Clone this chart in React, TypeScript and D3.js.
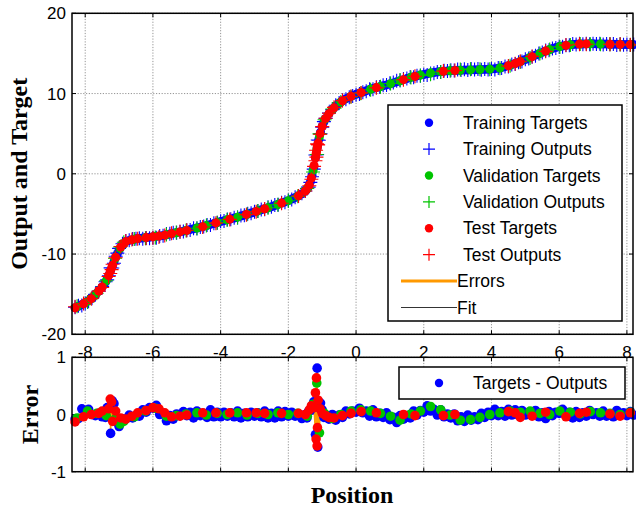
import React from "react";
import * as d3 from "d3";

// Each sample: [position, target, target - output]
const trainingSamples: [number, number, number][] = [
  [-8.3, -16.7, -0.08], [-8.2, -16.5, -0.07], [-8.1, -16.3, 0.1], [-8.0, -16.1, 0.07],
  [-7.9, -15.8, 0.09], [-7.8, -15.5, 0.0], [-7.7, -15.05, -0.02], [-7.6, -14.6, 0.02],
  [-7.5, -14.1, -0.04], [-7.4, -13.5, -0.05], [-7.35, -13.1, 0.12], [-7.3, -12.6, 0.11],
  [-7.25, -12.05, -0.33], [-7.2, -11.5, 0.24], [-7.15, -10.95, 0.19], [-7.1, -10.4, -0.12],
  [-7.05, -9.95, -0.06], [-7.0, -9.5, -0.21], [-6.9, -8.8, -0.08], [-6.8, -8.45, -0.08],
  [-6.7, -8.3, -0.01], [-6.6, -8.2, -0.06], [-6.5, -8.1, -0.02], [-6.4, -8.05, -0.03],
  [-6.3, -8.0, 0.08], [-6.2, -7.95, 0.04], [-6.1, -7.9, 0.12], [-6.0, -7.85, 0.11],
  [-5.9, -7.8, 0.16], [-5.8, -7.75, 0.0], [-5.7, -7.7, 0.02], [-5.6, -7.6, -0.11],
  [-5.5, -7.5, -0.02], [-5.4, -7.42, -0.08], [-5.3, -7.33, 0.01], [-5.2, -7.24, -0.02],
  [-5.1, -7.15, 0.05], [-5.0, -7.05, -0.02], [-4.9, -6.95, 0.04], [-4.8, -6.85, -0.06],
  [-4.7, -6.75, 0.06], [-4.6, -6.65, -0.02], [-4.5, -6.55, 0.02], [-4.4, -6.43, -0.05],
  [-4.3, -6.31, 0.08], [-4.2, -6.19, -0.04], [-4.1, -6.07, 0.04], [-4.0, -5.95, -0.04],
  [-3.9, -5.84, 0.04], [-3.8, -5.73, -0.03], [-3.7, -5.62, 0.03], [-3.6, -5.51, -0.04],
  [-3.5, -5.4, 0.06], [-3.4, -5.27, -0.06], [-3.3, -5.14, 0.02], [-3.2, -5.01, -0.04],
  [-3.1, -4.88, 0.04], [-3.0, -4.75, -0.03], [-2.9, -4.62, 0.03], [-2.8, -4.49, -0.04],
  [-2.7, -4.36, 0.06], [-2.6, -4.23, -0.06], [-2.5, -4.1, 0.02], [-2.4, -3.95, -0.06],
  [-2.3, -3.8, 0.06], [-2.2, -3.65, -0.04], [-2.1, -3.5, 0.05], [-2.0, -3.35, -0.03],
  [-1.9, -3.15, 0.04], [-1.8, -2.95, -0.03], [-1.7, -2.75, 0.01], [-1.6, -2.5, -0.07],
  [-1.5, -2.15, 0.0], [-1.45, -1.9, -0.06], [-1.4, -1.6, 0.06], [-1.35, -1.0, 0.07],
  [-1.3, -0.2, 0.16], [-1.25, 0.8, 0.22], [-1.2, 2.0, -0.35], [-1.15, 3.2, 0.81],
  [-1.13, 3.65, -0.57], [-1.1, 4.3, 0.12], [-1.05, 5.2, 0.2], [-1.0, 5.9, 0.08],
  [-0.95, 6.45, -0.05], [-0.9, 6.9, -0.01], [-0.8, 7.5, -0.08], [-0.7, 8.0, 0.0],
  [-0.6, 8.45, -0.1], [-0.5, 8.8, -0.01], [-0.4, 9.1, -0.05], [-0.3, 9.35, 0.06],
  [-0.2, 9.55, 0.01], [-0.1, 9.75, 0.06], [0.0, 9.9, 0.04], [0.1, 10.05, 0.11],
  [0.2, 10.2, 0.03], [0.3, 10.35, 0.06], [0.4, 10.5, -0.03], [0.5, 10.62, 0.08],
  [0.6, 10.74, -0.04], [0.7, 10.85, 0.02], [0.8, 10.97, -0.05], [0.9, 11.08, 0.03],
  [1.0, 11.2, -0.09], [1.1, 11.33, -0.05], [1.2, 11.46, -0.14], [1.3, 11.6, -0.02],
  [1.4, 11.73, -0.08], [1.5, 11.86, -0.02], [1.6, 12.0, -0.06], [1.7, 12.1, 0.06],
  [1.8, 12.2, -0.01], [1.9, 12.3, 0.07], [2.0, 12.38, 0.04], [2.1, 12.47, 0.15],
  [2.2, 12.55, 0.06], [2.3, 12.62, 0.09], [2.4, 12.69, -0.01], [2.5, 12.75, 0.08],
  [2.6, 12.79, -0.04], [2.7, 12.82, 0.01], [2.8, 12.85, -0.06], [2.9, 12.87, 0.01],
  [3.0, 12.89, -0.11], [3.1, 12.9, -0.04], [3.2, 12.92, -0.12], [3.3, 12.93, -0.01],
  [3.4, 12.95, -0.1], [3.5, 12.96, -0.04], [3.6, 12.98, -0.09], [3.7, 13.0, 0.02],
  [3.8, 13.01, -0.05], [3.9, 13.03, 0.04], [4.0, 13.05, -0.02], [4.1, 13.1, 0.09],
  [4.2, 13.15, -0.02], [4.3, 13.24, 0.05], [4.4, 13.35, -0.03], [4.5, 13.47, 0.09],
  [4.6, 13.6, -0.01], [4.7, 13.75, 0.08], [4.8, 13.9, -0.01], [4.9, 14.07, 0.07],
  [5.0, 14.25, -0.01], [5.1, 14.42, 0.04], [5.2, 14.6, 0.0], [5.3, 14.78, 0.07],
  [5.4, 14.95, -0.04], [5.5, 15.13, 0.03], [5.6, 15.3, -0.07], [5.7, 15.45, 0.05],
  [5.8, 15.6, -0.02], [5.9, 15.73, 0.04], [6.0, 15.85, 0.02], [6.1, 15.93, 0.09],
  [6.2, 16.0, -0.02], [6.3, 16.06, 0.04], [6.4, 16.11, -0.06], [6.5, 16.15, 0.05],
  [6.6, 16.17, -0.05], [6.7, 16.18, 0.03], [6.8, 16.19, -0.03], [6.9, 16.2, 0.07],
  [7.0, 16.2, 0.0], [7.1, 16.19, 0.03], [7.2, 16.18, -0.03], [7.3, 16.17, 0.06],
  [7.4, 16.16, -0.03], [7.5, 16.15, 0.0], [7.6, 16.14, -0.04], [7.7, 16.13, 0.07],
  [7.8, 16.12, -0.01], [7.9, 16.11, 0.03], [8.0, 16.1, -0.02], [8.1, 16.1, 0.05],
  [8.2, 16.1, -0.01],
];

const validationSamples: [number, number, number][] = [
  [-8.24, -16.58, -0.06], [-7.93, -15.9, 0.06], [-7.66, -14.87, 0.02], [-7.38, -13.35, -0.02],
  [-7.12, -10.6, -0.08], [-6.97, -9.3, -0.17], [-6.86, -8.65, -0.12], [-6.55, -8.15, -0.04],
  [-6.22, -7.96, 0.06], [-5.93, -7.82, 0.11], [-5.6, -7.6, -0.03], [-5.31, -7.34, -0.02],
  [-5.02, -7.07, 0.01], [-4.7, -6.75, 0.03], [-4.42, -6.45, -0.01], [-4.1, -6.07, 0.02],
  [-3.81, -5.74, 0.0], [-3.5, -5.4, 0.03], [-3.22, -5.04, -0.01], [-2.9, -4.62, 0.02],
  [-2.6, -4.23, 0.0], [-2.31, -3.82, 0.03], [-2.0, -3.35, 0.0], [-1.72, -2.79, 0.02],
  [-1.44, -1.84, -0.03], [-1.27, 0.4, 0.18], [-1.16, 2.96, 0.55], [-1.08, 4.65, -0.32],
  [-0.93, 6.75, 0.02], [-0.7, 8.0, -0.07], [-0.45, 8.95, 0.0], [-0.15, 9.65, 0.06],
  [0.14, 10.11, 0.08], [0.43, 10.54, 0.06], [0.72, 10.87, 0.02], [1.02, 11.23, -0.03],
  [1.3, 11.6, -0.1], [1.62, 12.02, 0.01], [1.9, 12.3, 0.06], [2.2, 12.55, 0.14],
  [2.5, 12.75, 0.08], [2.78, 12.84, -0.01], [3.08, 12.9, -0.1], [3.38, 12.95, -0.09],
  [3.66, 12.99, -0.05], [3.95, 13.04, 0.0], [4.25, 13.19, 0.03], [4.55, 13.53, 0.06],
  [4.85, 13.98, 0.04], [5.14, 14.49, 0.06], [5.43, 15.0, 0.02], [5.72, 15.48, 0.0],
  [6.02, 15.87, 0.06], [6.33, 16.08, 0.04], [6.62, 16.17, 0.01], [6.92, 16.2, 0.05],
  [7.22, 16.18, 0.03], [7.5, 16.15, 0.02], [7.8, 16.12, 0.0], [8.1, 16.1, 0.04],
];

const testSamples: [number, number, number][] = [
  [-8.3, -16.7, -0.13], [-8.05, -16.2, -0.04], [-7.82, -15.56, 0.0], [-7.6, -14.6, 0.02],
  [-7.5, -14.1, 0.06], [-7.31, -12.69, 0.1], [-7.26, -12.16, 0.27], [-7.22, -11.72, 0.22],
  [-7.19, -11.4, -0.12], [-7.1, -10.4, 0.06], [-6.95, -9.12, -0.06], [-6.8, -8.45, -0.08],
  [-6.62, -8.22, -0.03], [-6.45, -8.07, 0.03], [-6.2, -7.95, 0.07], [-6.0, -7.85, 0.12],
  [-5.82, -7.76, 0.1], [-5.65, -7.65, 0.03], [-5.45, -7.46, -0.04], [-5.2, -7.24, -0.03],
  [-5.0, -7.05, -0.01], [-4.53, -6.59, 0.03], [-4.14, -6.12, 0.03], [-3.73, -5.65, 0.03],
  [-3.24, -5.06, 0.03], [-2.95, -4.69, 0.03], [-2.7, -4.36, 0.02], [-2.2, -3.65, 0.02],
  [-1.7, -2.75, 0.02], [-1.5, -2.15, 0.0], [-1.38, -1.4, 0.08], [-1.32, -0.52, 0.15],
  [-1.24, 1.04, 0.12], [-1.2, 2.0, 0.38], [-1.18, 2.5, -0.43], [-1.17, 2.72, 0.64],
  [-1.15, 3.2, -0.55], [-1.14, 3.42, -0.23], [-1.12, 3.85, 0.25], [-1.06, 5.02, 0.1],
  [-1.0, 5.9, 0.02], [-0.9, 6.9, -0.02], [-0.8, 7.5, -0.05], [-0.65, 8.22, -0.06],
  [-0.4, 9.1, -0.02], [-0.15, 9.65, 0.02], [0.15, 10.13, 0.05], [0.6, 10.74, 0.03],
  [1.4, 11.73, 0.0], [1.74, 12.14, -0.02], [2.58, 12.78, -0.02], [2.92, 12.87, 0.0],
  [4.5, 13.47, 0.05], [4.7, 13.75, 0.03], [4.85, 13.98, -0.05], [5.2, 14.6, -0.03],
  [5.6, 15.3, 0.04], [6.2, 16.0, -0.04], [6.6, 16.17, 0.02], [6.8, 16.19, 0.04],
  [7.5, 16.15, 0.01], [7.8, 16.12, -0.03], [8.1, 16.1, 0.03],
];

const positionTicks = [-8, -6, -4, -2, 0, 2, 4, 6, 8];
const outputTicks = [-20, -10, 0, 10, 20];
const errorTicks = [-1, 0, 1];

const fitLegend = [
  "Training Targets",
  "Training Outputs",
  "Validation Targets",
  "Validation Outputs",
  "Test Targets",
  "Test Outputs",
  "Errors",
  "Fit",
];

const BLUE = "#0000ff";
const GREEN = "#00c400";
const RED = "#ff0000";
const ORANGE = "#ff9900";
const SANS = "'Liberation Sans', Arial, sans-serif";
const SERIF = "'Liberation Serif', 'Times New Roman', serif";

const W = 636;
const H = 508;
const LEFT = 72;
const RIGHT = 633;
const FIT_TOP = 13.3;
const FIT_BOTTOM = 334.3;
const ERR_TOP = 357.3;
const ERR_BOTTOM = 471.7;

const x = d3.scaleLinear().domain([-8.39, 8.18]).range([LEFT, RIGHT]);
const yFit = d3.scaleLinear().domain([-20, 20]).range([FIT_BOTTOM, FIT_TOP]);
const yErr = d3.scaleLinear().domain([-1, 1]).range([ERR_BOTTOM, ERR_TOP]);

const DOT_R = 4.5;
const PLUS = 7;

function plusPath(pts: [number, number][], s = PLUS) {
  return pts.map(([px, py]) => `M${px - s},${py}H${px + s}M${px},${py - s}V${py + s}`).join("");
}

function Frame({ top, bottom, yTicks, y, tickLabels }: any) {
  const tl = 4;
  return (
    <g>
      {positionTicks.map((t) => (
        <line key={"gx" + t} x1={x(t)} x2={x(t)} y1={top} y2={bottom}
          stroke="#7a7a7a" strokeWidth={0.8} strokeDasharray="1.2,1.6" />
      ))}
      {yTicks.map((t: number) => (
        <line key={"gy" + t} x1={LEFT} x2={RIGHT} y1={y(t)} y2={y(t)}
          stroke="#7a7a7a" strokeWidth={0.8} strokeDasharray="1.2,1.6" />
      ))}
      {positionTicks.map((t) => (
        <g key={"tx" + t}>
          <line x1={x(t)} x2={x(t)} y1={bottom} y2={bottom - tl} stroke="#000" />
          <line x1={x(t)} x2={x(t)} y1={top} y2={top + tl} stroke="#000" />
        </g>
      ))}
      {yTicks.map((t: number) => (
        <g key={"ty" + t}>
          <line x1={LEFT} x2={LEFT + tl} y1={y(t)} y2={y(t)} stroke="#000" />
          <line x1={RIGHT} x2={RIGHT - tl} y1={y(t)} y2={y(t)} stroke="#000" />
          <text x={66} y={y(t)} dy="0.36em" textAnchor="end" fontFamily={SANS} fontSize={17}>
            {t}
          </text>
        </g>
      ))}
      {tickLabels &&
        positionTicks.map((t) => (
          <text key={"lx" + t} x={x(t)} y={358} textAnchor="middle" fontFamily={SANS} fontSize={17}>
            {t}
          </text>
        ))}
    </g>
  );
}

function Border({ top, bottom }: { top: number; bottom: number }) {
  return (
    <rect x={LEFT} y={top} width={RIGHT - LEFT} height={bottom - top}
      fill="none" stroke="#000" strokeWidth={1.5} />
  );
}

export default function App() {
  const sets = [
    { data: trainingSamples, color: BLUE },
    { data: validationSamples, color: GREEN },
    { data: testSamples, color: RED },
  ];

  const all = [...trainingSamples, ...validationSamples, ...testSamples].sort((a, b) => a[0] - b[0]);
  const fitLine = d3
    .line<[number, number, number]>()
    .x((d) => x(d[0]))
    .y((d) => yFit(d[1] - d[2]))(all) as string;
  const errLine = d3
    .line<[number, number, number]>()
    .x((d) => x(d[0]))
    .y((d) => yErr(d[2]))(all) as string;

  const legX = 388, legY = 105, legW = 234, legH = 216;
  const rowY = (i: number) => 122.7 + i * 26.4;
  const markX = 429;

  return (
    <svg width={W} height={H} style={{ position: "absolute", left: 0, top: 0, background: "#fff" }}>
      <rect width={W} height={H} fill="#fff" />

      {/* Output vs. target panel */}
      <Frame top={FIT_TOP} bottom={FIT_BOTTOM} yTicks={outputTicks} y={yFit} tickLabels />
      <g>
        {all.map((d, i) => (
          <line key={"e" + i} x1={x(d[0])} x2={x(d[0])} y1={yFit(d[1])} y2={yFit(d[1] - d[2])}
            stroke={ORANGE} strokeWidth={2} />
        ))}
        <path d={fitLine} fill="none" stroke="#000" strokeWidth={0.8} />
        {sets.map((s, k) => (
          <g key={"s" + k}>
            {s.data.map((d, i) => (
              <circle key={i} cx={x(d[0])} cy={yFit(d[1])} r={DOT_R} fill={s.color} />
            ))}
            <path
              d={plusPath(s.data.map((d) => [x(d[0]), yFit(d[1] - d[2])]))}
              stroke={s.color} strokeWidth={1.1} fill="none" />
          </g>
        ))}
      </g>
      <Border top={FIT_TOP} bottom={FIT_BOTTOM} />

      {/* Legend of the fit panel */}
      <rect x={legX} y={legY} width={legW} height={legH} fill="#fff" stroke="#000" strokeWidth={1.5} />
      {fitLegend.map((label, i) => {
        const cy = rowY(i);
        const colors = [BLUE, BLUE, GREEN, GREEN, RED, RED];
        let mark: React.ReactNode = null;
        if (i < 6 && i % 2 === 0) mark = <circle cx={markX} cy={cy} r={4.2} fill={colors[i]} />;
        else if (i < 6) mark = <path d={plusPath([[markX, cy]], 6)} stroke={colors[i]} strokeWidth={1.2} />;
        else if (i === 6) mark = <line x1={401} x2={457} y1={cy} y2={cy} stroke={ORANGE} strokeWidth={3} />;
        else mark = <line x1={401} x2={457} y1={cy} y2={cy} stroke="#000" strokeWidth={0.8} />;
        return (
          <g key={label}>
            {mark}
            <text x={i >= 6 ? 457 : 463} y={cy + 6} fontFamily={SANS} fontSize={17.5}>
              {label}
            </text>
          </g>
        );
      })}

      {/* Error panel */}
      <Frame top={ERR_TOP} bottom={ERR_BOTTOM} yTicks={errorTicks} y={yErr} tickLabels={false} />
      <path d={errLine} fill="none" stroke={ORANGE} strokeWidth={1.5} />
      {sets.map((s, k) => (
        <g key={"e" + k}>
          {s.data.map((d, i) => (
            <circle key={i} cx={x(d[0])} cy={yErr(d[2])} r={4.8} fill={s.color} />
          ))}
        </g>
      ))}
      <Border top={ERR_TOP} bottom={ERR_BOTTOM} />

      <rect x={399} y={367} width={226} height={32} fill="#fff" stroke="#000" strokeWidth={1.5} />
      <circle cx={439} cy={383} r={4.2} fill={BLUE} />
      <text x={473} y={389} fontFamily={SANS} fontSize={17.5}>
        Targets - Outputs
      </text>

      {/* Axis titles */}
      <text transform={`translate(27,${(FIT_TOP + FIT_BOTTOM) / 2}) rotate(-90)`} textAnchor="middle"
        fontFamily={SERIF} fontWeight="bold" fontSize={24}>
        Output and Target
      </text>
      <text transform={`translate(38,${(ERR_TOP + ERR_BOTTOM) / 2}) rotate(-90)`} textAnchor="middle"
        fontFamily={SERIF} fontWeight="bold" fontSize={24}>
        Error
      </text>
      <text x={352} y={503} textAnchor="middle" fontFamily={SERIF} fontWeight="bold" fontSize={24}>
        Position
      </text>
    </svg>
  );
}
